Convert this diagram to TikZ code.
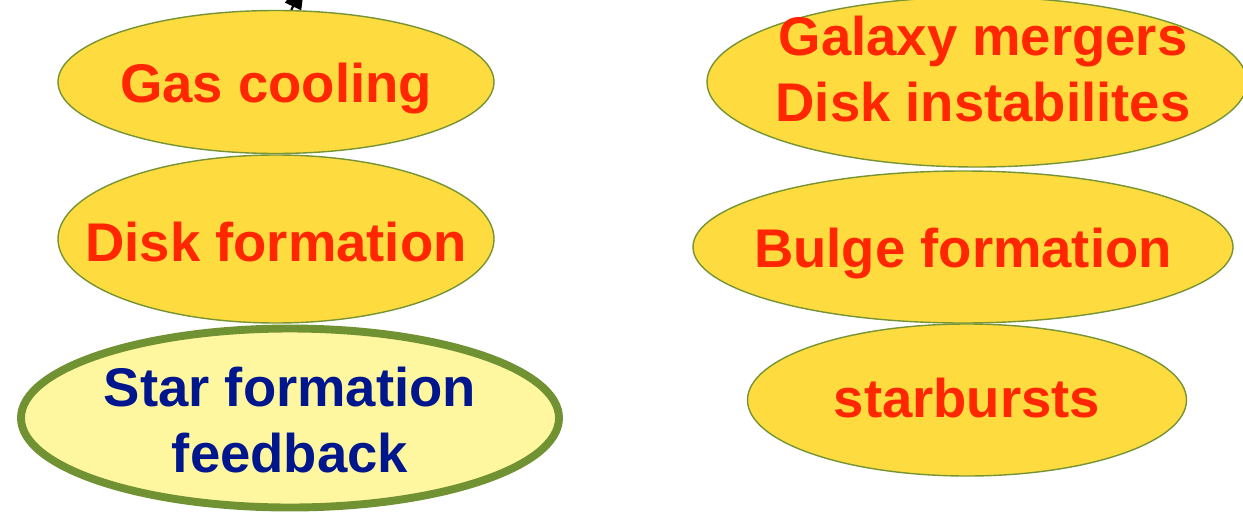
\documentclass[tikz,border=0pt]{standalone}
\usepackage{fontspec}
\setmainfont{Liberation Sans}
\usetikzlibrary{shapes.geometric,arrows.meta}
\definecolor{blobfill}{RGB}{254,219,62}
\definecolor{blobedge}{RGB}{118,148,52}
\definecolor{paleFill}{RGB}{255,247,160}
\definecolor{thickedge}{RGB}{112,146,50}
\definecolor{procred}{RGB}{255,38,0}
\definecolor{procblue}{RGB}{0,22,140}
\def\pu{0.02cm}
\tikzset{
  blob/.style={ellipse, draw=blobedge, line width=0.8pt, fill=blobfill, inner sep=0pt},
  keyblob/.style={blob, draw=thickedge, line width=4.5pt, fill=paleFill},
  % one line of text, moved below the centre of its ellipse
  txt/.style={inner sep=0pt, text=procred,
    font=\fontsize{31}{37}\selectfont\bfseries, yshift=-#1*\pu},
  bluetxt/.style={txt=#1, text=procblue},
  link/.style={line width=1.2pt, -{Triangle[length=16pt,width=10pt]}}
}
\begin{document}
\begin{tikzpicture}[x=0.02cm,y=-0.02cm]
\useasboundingbox (0,0) rectangle (1243,514);
\clip (0,0) rectangle (1243,514);
% left column: processes for the disk
\node[blob, minimum width=436*\pu, minimum height=143*\pu,
  label={[txt=7]center:Gas cooling}] (gas) at (276,82) {};
\node[blob, minimum width=436*\pu, minimum height=168*\pu,
  label={[txt=3]center:Disk formation}] (disk) at (276,239) {};
\node[keyblob, minimum width=538*\pu, minimum height=179*\pu,
  label={[bluetxt=-31]center:Star formation},
  label={[bluetxt=35]center:feedback}] (sf) at (290,418) {};
% right column: processes for the bulge
\node[blob, minimum width=540*\pu, minimum height=170*\pu,
  label={[txt=-40, xshift=6*\pu]center:Galaxy mergers},
  label={[txt=20, xshift=6*\pu]center:Disk instabilites}] (merge) at (977,82) {};
\node[blob, minimum width=540*\pu, minimum height=152*\pu,
  label={[txt=7]center:Bulge formation}] (bulge) at (963,247) {};
\node[blob, minimum width=439*\pu, minimum height=152*\pu,
  label={[txt=-2]center:starbursts}] (burst) at (967,400) {};
% outgoing arrow at the top edge
\coordinate (up) at (305,-19);
\draw[link] (gas.78) -- (up);
\end{tikzpicture}
\end{document}
